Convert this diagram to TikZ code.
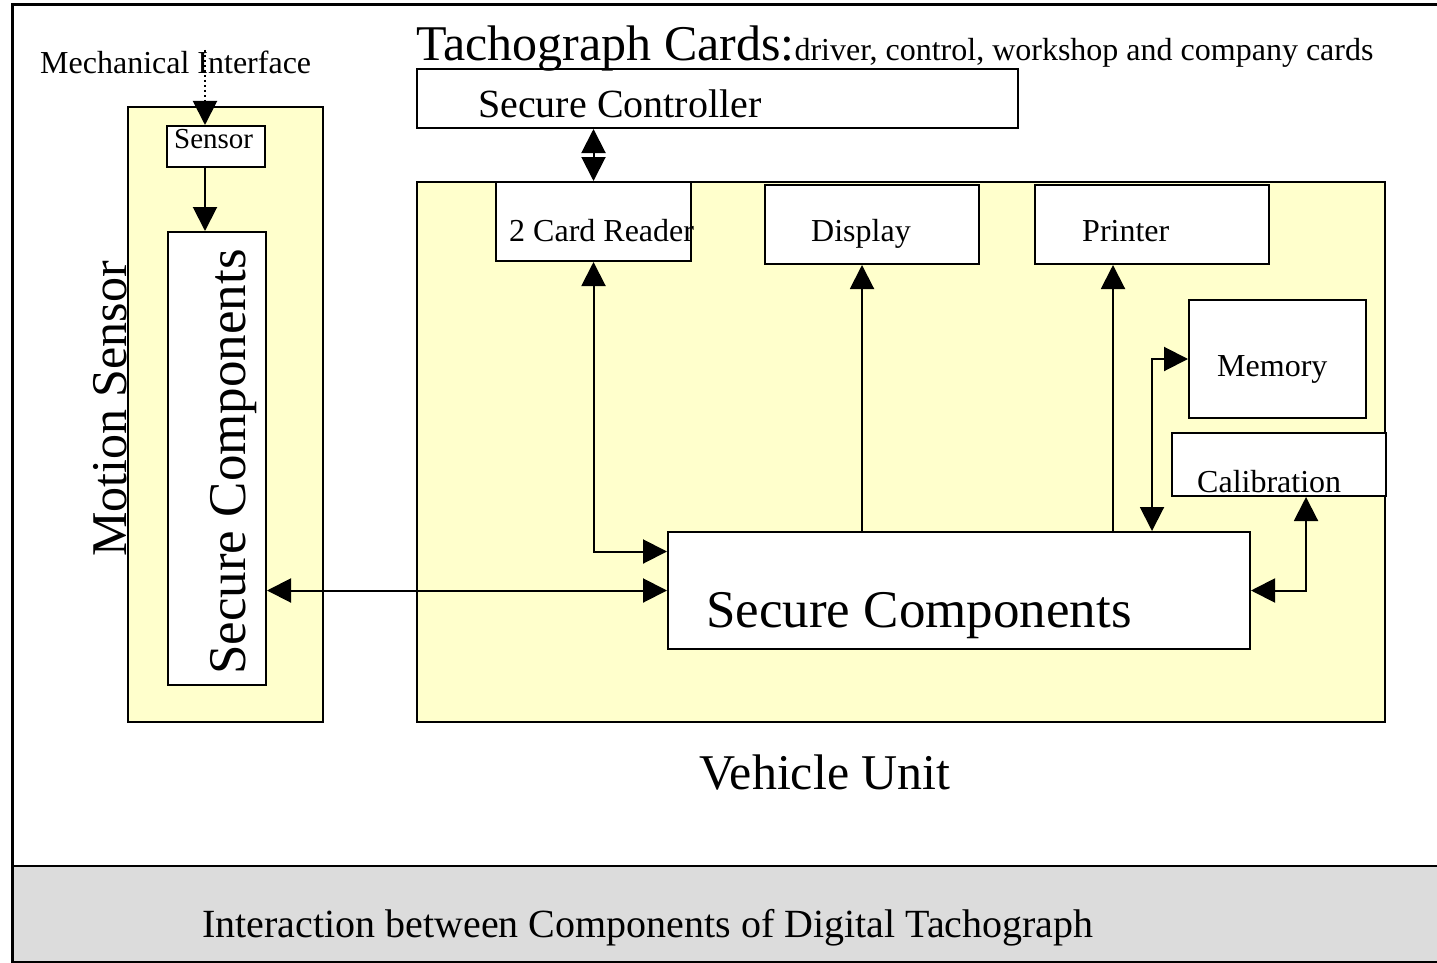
\documentclass[tikz,border=0pt]{standalone}
\usepackage{fontspec}
\setmainfont{Liberation Serif}
\usetikzlibrary{arrows.meta}
\definecolor{unityellow}{HTML}{FFFFCC}
\definecolor{captiongray}{HTML}{DCDCDC}
\newcommand{\fs}[1]{\fontsize{#1}{#1}\selectfont}
\tikzset{
  box/.style={draw, line width=2pt, fill=white, rectangle, inner sep=0pt},
  unit/.style={box, fill=unityellow},
  lbl/.style={inner sep=0pt, anchor=base west},
  conn/.style={line width=2pt},
  tip/.tip={Triangle[length=24pt, width=24pt]}
}
\begin{document}
\begin{tikzpicture}[x=1pt, y=-1pt]
\useasboundingbox (0,0) rectangle (1437,963);
% frame and caption band
\fill[white] (0,0) rectangle (1437,963);
\fill[captiongray] (12,866) rectangle (1450,962);
\draw[line width=3pt] (12,5) rectangle (1450,962);
\draw[line width=2.5pt] (12,866) -- (1450,866);

% motion sensor
\node[unit, minimum width=195pt, minimum height=615pt] (mot) at (225.5,414.5) {};
\node[box, minimum width=98pt, minimum height=41pt] (sensor) at (216,146.5) {};
\node[box, minimum width=98pt, minimum height=453pt] (lsc) at (217,458.5) {};

% vehicle unit
\node[unit, minimum width=968pt, minimum height=540pt] (vu) at (901,452) {};
\node[box, minimum width=601pt, minimum height=59pt] (ctrl) at (717.5,98.5) {};
\node[box, minimum width=195pt, minimum height=79pt] (reader) at (593.5,221.5) {};
\node[box, minimum width=214pt, minimum height=79pt] (disp) at (872,224.5) {};
\node[box, minimum width=234pt, minimum height=79pt] (prn) at (1152,224.5) {};
\node[box, minimum width=177pt, minimum height=118pt] (mem) at (1277.5,359) {};
\node[box, minimum width=214pt, minimum height=63pt] (cal) at (1279,464.5) {};
\node[box, minimum width=582pt, minimum height=117pt] (csc) at (959,590.5) {};

% texts
\node[lbl] (ttitle) at (416,61) {\fs{50}Tachograph Cards:\fs{32}driver, control, workshop and company cards};
\node[lbl] (tmech) at (40,74) {\fs{32}Mechanical Interface};
\node[lbl] (tsensor) at (174,148) {\fs{29}Sensor};
\node[lbl, rotate=90] (tlsc) at (245,675) {\fs{53}Secure Components};
\node[lbl, rotate=90] (tmot) at (126,557) {\fs{50}Motion Sensor};
\node[lbl] (tctrl) at (478,118) {\fs{40}Secure Controller};
\node[lbl] (treader) at (509,241) {\fs{32}2 Card Reader};
\node[lbl] (tdisp) at (811,241) {\fs{32}Display};
\node[lbl] (tprn) at (1082,241) {\fs{32}Printer};
\node[lbl] (tmem) at (1217,376) {\fs{32}Memory};
\node[lbl] (tcal) at (1197,492) {\fs{32}Calibration};
\node[lbl] (tcsc) at (706,627) {\fs{53}Secure Components};
\node[lbl] (tvu) at (699,789) {\fs{50}Vehicle Unit};
\node[lbl] (tcap) at (202,937) {\fs{40}Interaction between Components of Digital Tachograph};

% connectors
\coordinate (mi) at (205,50);
\draw[line width=2.5pt, dash pattern=on 2.5pt off 2.5pt] (mi) -- ([yshift=24pt]mi |- sensor.north);
\draw[conn, -tip] ([yshift=24pt]mi |- sensor.north) -- (mi |- sensor.north);
\draw[conn, -tip] (sensor.south -| mi) -- (lsc.north -| mi);
\draw[conn, tip-tip] (ctrl.south -| reader.north) -- (reader.north);
\draw[conn, tip-tip] (reader.south) |- ([yshift=39pt]csc.west);
\draw[conn, tip-tip] (lsc.east |- csc.west) -- (csc.west);
\draw[conn, -tip] ([xshift=-10pt]disp.south |- csc.north) -- ([xshift=-10pt]disp.south);
\draw[conn, -tip] ([xshift=-39pt]prn.south |- csc.north) -- ([xshift=-39pt]prn.south);
\draw[conn, tip-tip] (mem.west) -| ([xshift=193pt]csc.north);
\draw[conn, tip-tip] ([xshift=27pt]cal.south) |- (csc.east);
\end{tikzpicture}
\end{document}
